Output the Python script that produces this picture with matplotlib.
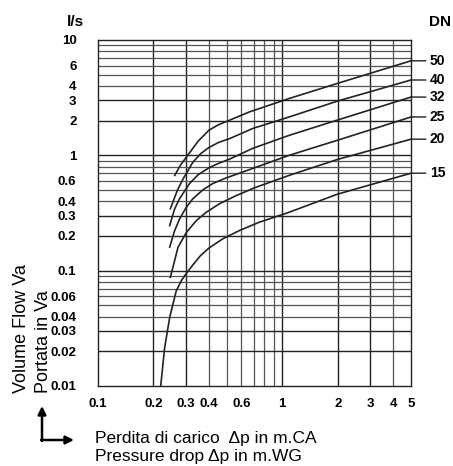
import numpy as np
import matplotlib.pyplot as plt

plt.rcParams['font.family'] = ['Liberation Sans', 'DejaVu Sans']

# pressure drop (m WG) and volume flow (l/s), per DN
dn_labels = ['50', '40', '32', '25', '20', '15']

dp_50 = [0.261, 0.28, 0.302, 0.35, 0.40, 0.45, 0.50, 0.664, 1.09, 1.99, 5.0]
va_50 = [0.67, 0.82, 0.967, 1.33, 1.65, 1.84, 1.97, 2.38, 3.11, 4.2, 6.6]

dp_40 = [0.247, 0.27, 0.289, 0.327, 0.36, 0.40, 0.45, 0.52, 0.692, 1.09, 1.99, 5.0]
va_40 = [0.344, 0.50, 0.62, 0.87, 1.03, 1.17, 1.29, 1.40, 1.71, 2.15, 2.95, 4.5]

dp_32 = [0.245, 0.26, 0.277, 0.314, 0.35, 0.40, 0.45, 0.52, 0.692, 1.09, 1.99, 5.0]
va_32 = [0.246, 0.34, 0.42, 0.57, 0.68, 0.78, 0.85, 0.93, 1.15, 1.49, 2.02, 3.2]

dp_25 = [0.245, 0.26, 0.277, 0.30, 0.327, 0.37, 0.42, 0.50, 0.586, 1.09, 1.99, 5.0]
va_25 = [0.160, 0.22, 0.28, 0.35, 0.42, 0.50, 0.57, 0.64, 0.70, 1.0, 1.35, 2.15]

dp_20 = [0.247, 0.272, 0.302, 0.342, 0.387, 0.456, 0.55, 0.70, 1.09, 1.99, 5.0]
va_20 = [0.0875, 0.160, 0.215, 0.272, 0.321, 0.38, 0.44, 0.52, 0.67, 0.92, 1.38]

dp_15 = [0.219, 0.230, 0.245, 0.266, 0.285, 0.302, 0.327, 0.36, 0.40, 0.476, 0.586, 0.751, 1.09, 1.99, 5.0]
va_15 = [0.01, 0.0215, 0.0393, 0.067, 0.083, 0.095, 0.112, 0.135, 0.157, 0.189, 0.223, 0.263, 0.321, 0.46, 0.70]

curves = [(dp_50, va_50), (dp_40, va_40), (dp_32, va_32),
          (dp_25, va_25), (dp_20, va_20), (dp_15, va_15)]

xticks = [0.1, 0.2, 0.3, 0.4, 0.6, 1, 2, 3, 4, 5]
xtick_labels = ['0.1', '0.2', '0.3', '0.4', '0.6', '1', '2', '3', '4', '5']
yticks = [10, 6, 4, 3, 2, 1, 0.6, 0.4, 0.3, 0.2, 0.1, 0.06, 0.04, 0.03, 0.02, 0.01]
ytick_labels = ['10', '6', '4', '3', '2', '1', '0.6', '0.4', '0.3', '0.2',
                '0.1', '0.06', '0.04', '0.03', '0.02', '0.01']

narrow = ['Liberation Sans Narrow', 'Liberation Sans', 'DejaVu Sans']

W, H = 453, 466
fig = plt.figure(figsize=(W / 100, H / 100), dpi=100)
ax = fig.add_axes([98 / W, 1 - 386 / H, 313 / W, 346 / H])

ax.set_xscale('log')
ax.set_yscale('log')
ax.set_xlim(0.1, 5)
ax.set_ylim(0.01, 10)

# log grid: every integer multiple in each decade
for dec in [0.1, 1]:
    for m in range(1, 10):
        v = dec * m
        if 0.1 < v < 5:
            ax.axvline(v, color='#222222' if m in (1, 2, 3) else '#555555',
                       lw=1.0 if m in (1, 2, 3) else 0.9, zorder=1)
for dec in [0.01, 0.1, 1]:
    for m in range(1, 10):
        v = dec * m
        if 0.01 < v < 10:
            ax.axhline(v, color='#222222' if m in (1, 2, 3) else '#555555',
                       lw=1.0 if m in (1, 2, 3) else 0.9, zorder=1)

for (dp, va), lab in zip(curves, dn_labels):
    ax.plot(dp, va, color='#222222', lw=1.2, zorder=3)
    ax.annotate(lab, xy=(dp[-1], va[-1]), xytext=(19, 0),
                textcoords='offset pixels', va='center', ha='left',
                fontsize=10, fontweight='bold', family=narrow,
                annotation_clip=False,
                arrowprops=dict(arrowstyle='-', color='#222222', lw=1.0,
                                shrinkA=1, shrinkB=0))

ax.xaxis.set_minor_locator(plt.NullLocator())
ax.yaxis.set_minor_locator(plt.NullLocator())
ax.set_xticks(xticks)
ax.set_xticklabels(xtick_labels, fontsize=9.5, fontweight='bold', family=narrow)
ax.set_yticks(yticks)
ax.set_yticklabels(ytick_labels, fontsize=9.5, fontweight='bold', family=narrow)
ax.tick_params(length=0)
ax.tick_params(axis='y', pad=15.5)
ax.tick_params(axis='x', pad=8.5)
for s in ax.spines.values():
    s.set_color('#222222')
    s.set_linewidth(1.0)

fig.text(75 / W, 1 - 22 / H, 'l/s', fontsize=11, fontweight='bold',
         family=narrow, ha='center', va='center')
fig.text(440 / W, 1 - 22 / H, 'DN', fontsize=11, fontweight='bold',
         ha='center', va='center')

fig.text(22 / W, 1 - 393 / H, 'Volume Flow Va', rotation=90, fontsize=13,
         ha='center', va='bottom')
fig.text(43 / W, 1 - 393 / H, 'Portata in Va', rotation=90, fontsize=13,
         ha='center', va='bottom')

fig.text(95 / W, 1 - 438 / H, 'Perdita di carico  \u0394p in m.CA', fontsize=12.5,
         ha='left', va='center')
fig.text(95 / W, 1 - 457 / H, 'Pressure drop \u0394p in m.WG', fontsize=12.5,
         ha='left', va='center')

# corner arrow symbol
arrow_kw = dict(arrowstyle='-|>', color='black', lw=1.8, mutation_scale=12,
                shrinkA=0, shrinkB=0)
ax.annotate('', xy=(42, H - 406), xytext=(42, H - 441),
            xycoords='figure pixels', textcoords='figure pixels',
            arrowprops=arrow_kw, annotation_clip=False)
ax.annotate('', xy=(74, H - 440), xytext=(41, H - 440),
            xycoords='figure pixels', textcoords='figure pixels',
            arrowprops=arrow_kw, annotation_clip=False)

fig.savefig('out.png', dpi=100)
